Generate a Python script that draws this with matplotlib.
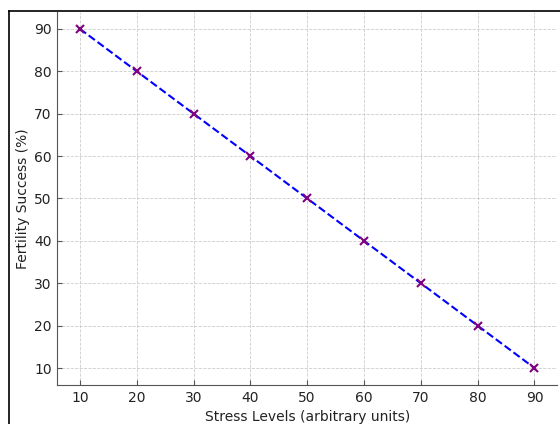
import numpy as np
import matplotlib
matplotlib.use('Agg')
import matplotlib.pyplot as plt
from matplotlib.lines import Line2D

# data
stress = [10, 20, 30, 40, 50, 60, 70, 80, 90]
fertility = [90, 80, 70, 60, 50, 40, 30, 20, 10]

fig = plt.figure(figsize=(5.6, 4.24), dpi=100)
ax = fig.add_axes([0.102, 0.092, 0.893, 0.880])

ax.plot(stress, fertility, linestyle='--', color='blue', linewidth=1.5,
        marker='x', markersize=6, markeredgecolor='purple', markeredgewidth=1.5)

ax.set_xticks(stress)
ax.set_yticks(fertility)
ax.grid(True, linestyle='--', color='#cccccc', linewidth=0.6)
ax.set_axisbelow(True)

ax.set_xlabel('Stress Levels (arbitrary units)', fontsize=10, color='#222222', labelpad=4)
ax.set_ylabel('Fertility Success (%)', fontsize=10, color='#222222', labelpad=3)
ax.tick_params(direction='in', colors='#555555', labelcolor='#222222', labelsize=10,
               length=3.5, pad=4)

ax.spines['top'].set_visible(False)
ax.spines['right'].set_visible(False)
ax.spines['left'].set_color('#555555')
ax.spines['bottom'].set_color('#555555')

# frame lines from the cropped screenshot
fig.add_artist(Line2D([9/560, 1], [1-11/424, 1-11/424], color='black', linewidth=1.2, transform=fig.transFigure))
fig.add_artist(Line2D([9/560, 9/560], [0, 1-11/424], color='black', linewidth=1.2, transform=fig.transFigure))

fig.savefig('out.png', dpi=100)
